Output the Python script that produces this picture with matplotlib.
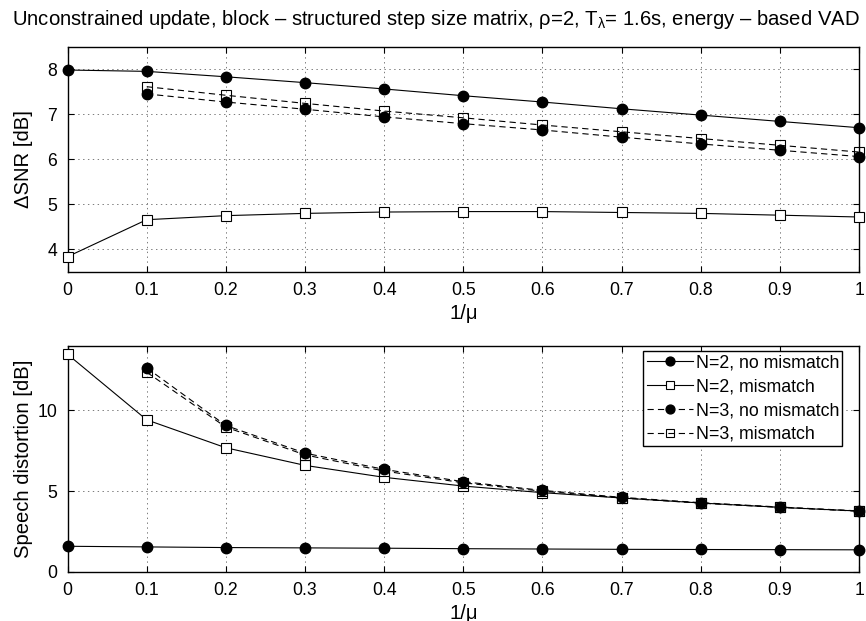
import matplotlib
matplotlib.use('Agg')
import matplotlib.pyplot as plt
from matplotlib.ticker import FuncFormatter

plt.rcParams['font.family'] = ['Liberation Sans', 'DejaVu Sans']
plt.rcParams['mathtext.fontset'] = 'custom'
plt.rcParams['mathtext.rm'] = 'Liberation Sans'
plt.rcParams['mathtext.it'] = 'Liberation Sans'
plt.rcParams['lines.scale_dashes'] = False

# x axis: 1/mu
inv_mu = [0.0, 0.1, 0.2, 0.3, 0.4, 0.5, 0.6, 0.7, 0.8, 0.9, 1.0]
inv_mu_n3 = inv_mu[1:]

# delta SNR [dB]
snr_n2_nomis = [7.98, 7.95, 7.83, 7.70, 7.56, 7.41, 7.27, 7.12, 6.98, 6.84, 6.70]
snr_n2_mis = [3.84, 4.66, 4.75, 4.80, 4.83, 4.84, 4.84, 4.82, 4.80, 4.76, 4.72]
snr_n3_nomis = [7.45, 7.27, 7.11, 6.94, 6.79, 6.65, 6.49, 6.34, 6.20, 6.06]
snr_n3_mis = [7.61, 7.42, 7.24, 7.07, 6.92, 6.76, 6.61, 6.46, 6.31, 6.16]

# speech distortion [dB]
sd_n2_nomis = [1.59, 1.55, 1.51, 1.49, 1.47, 1.44, 1.42, 1.40, 1.39, 1.38, 1.37]
sd_n2_mis = [13.48, 9.42, 7.69, 6.60, 5.86, 5.32, 4.91, 4.58, 4.27, 4.00, 3.77]
sd_n3_nomis = [12.64, 9.07, 7.36, 6.35, 5.59, 5.05, 4.62, 4.29, 4.02, 3.78]
sd_n3_mis = [12.37, 8.97, 7.25, 6.25, 5.52, 5.00, 4.58, 4.26, 4.00, 3.76]

labels = ['N=2, no mismatch', 'N=2, mismatch', 'N=3, no mismatch', 'N=3, mismatch']

title = ('Unconstrained update, block \u2013 structured step size matrix, \u03c1=2, '
         'T$_{\u03bb}$= 1.6s, energy \u2013 based VAD')

fig = plt.figure(figsize=(8.66, 6.21), dpi=100)
ax1 = fig.add_axes([0.078, 0.562, 0.914, 0.363])
ax2 = fig.add_axes([0.078, 0.079, 0.914, 0.364])

dash = (0, (4.5, 3.0))
lw = 0.8


def draw(ax, a, b, c, d):
    ax.plot(inv_mu, a, '-', color='k', lw=lw, marker='o', ms=7.5,
            mfc='k', mec='k', clip_on=False, zorder=3)
    ax.plot(inv_mu, b, '-', color='k', lw=lw, marker='s', ms=6.5,
            mfc='white', mec='k', mew=0.8, clip_on=False, zorder=3)
    ax.plot(inv_mu_n3, c, linestyle=dash, color='k', lw=lw, marker='o', ms=7.5,
            mfc='k', mec='k', clip_on=False, zorder=3)
    ax.plot(inv_mu_n3, d, linestyle=dash, color='k', lw=lw, marker='s', ms=6.5,
            mfc='none', mec='k', mew=0.8, clip_on=False, zorder=3)


def style(ax):
    ax.set_xlim(0, 1)
    ax.set_xticks(inv_mu)
    ax.xaxis.set_major_formatter(FuncFormatter(lambda v, p: '%g' % round(v, 1)))
    ax.grid(True, color='0.4', linestyle=(0, (1, 2.5)), lw=0.6)
    ax.tick_params(direction='in', top=True, right=True, length=4,
                   width=0.8, labelsize=12.7, pad=7.5)
    for s in ax.spines.values():
        s.set_linewidth(1.0)
    ax.set_xlabel('1/\u03bc', fontsize=14.6, labelpad=3)
    ax.yaxis.set_label_coords(-0.044, 0.5)


draw(ax1, snr_n2_nomis, snr_n2_mis, snr_n3_nomis, snr_n3_mis)
style(ax1)
ax1.set_ylim(3.5, 8.5)
ax1.set_yticks([4, 5, 6, 7, 8])
ax1.set_ylabel('\u0394SNR [dB]', fontsize=14.6)

draw(ax2, sd_n2_nomis, sd_n2_mis, sd_n3_nomis, sd_n3_mis)
style(ax2)
ax2.set_ylim(0, 14)
ax2.set_yticks([0, 5, 10])
ax2.set_ylabel('Speech distortion [dB]', fontsize=14.6)

leg = ax2.legend(labels, loc='upper right', bbox_to_anchor=(0.979, 0.977),
                 borderaxespad=0, fontsize=12.8, numpoints=1, handlelength=2.6,
                 handletextpad=0.15, labelspacing=0.38, borderpad=0.2,
                 markerscale=0.85, fancybox=False, framealpha=1, edgecolor='k')
leg.get_frame().set_linewidth(1.0)

fig.text(0.5035, 1 - 25 / 621, title, ha='center', va='baseline', fontsize=14.6)

fig.savefig('out.png', dpi=100)
